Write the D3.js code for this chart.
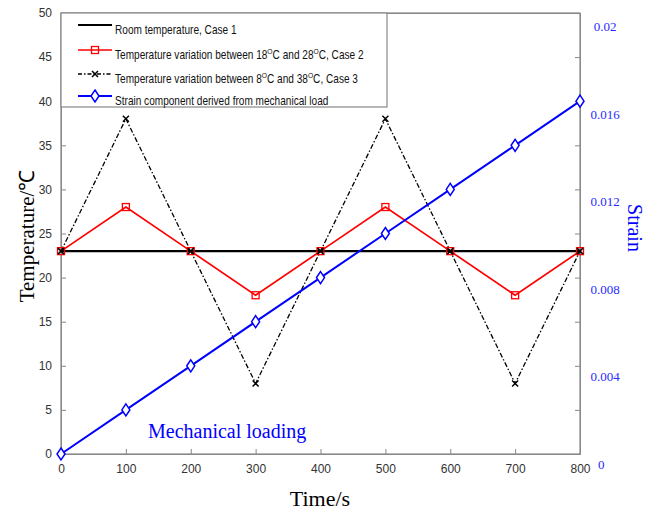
<!doctype html>
<html>
<head>
<script src="https://cdnjs.cloudflare.com/ajax/libs/d3/7.8.5/d3.min.js"></script>
<style>
  body { margin: 0; background: #fff; }
  .tick text { font-family: "Liberation Sans", Arial, sans-serif; font-size: 12px; fill: #333; }
</style>
</head>
<body>
<svg id="chart" width="649" height="516"></svg>
<script>
// data
var times = [0, 100, 200, 300, 400, 500, 600, 700, 800];
var case1 = [23, 23, 23, 23, 23, 23, 23, 23, 23];
var case2 = [23, 28, 23, 18, 23, 28, 23, 18, 23];
var case3 = [23, 38, 23, 8, 23, 38, 23, 8, 23];
var strain = [0, 0.002, 0.004, 0.006, 0.008, 0.010, 0.012, 0.014, 0.016];
var xTicks = [0, 100, 200, 300, 400, 500, 600, 700, 800];
var yTicks = [0, 5, 10, 15, 20, 25, 30, 35, 40, 45, 50];
var strainTicks = [0, 0.004, 0.008, 0.012, 0.016, 0.02];
var strainTickLabels = ["0", "0.004", "0.008", "0.012", "0.016", "0.02"];

var svg = d3.select("#chart");
var blue = "#0000ff";

var x = d3.scaleLinear().domain([0, 800]).range([61, 580]);
var y = d3.scaleLinear().domain([0, 50]).range([454, 13]);
// strain plotted on the temperature area
var yStrain = d3.scaleLinear().domain([0, 0.02]).range([454, 13]);
// strain labels were placed by hand in the original, slightly off the ticks
var yStrainLabel = d3.scaleLinear().domain([0, 0.02]).range([466, 28]);

// box
svg.append("rect").attr("x", 61).attr("y", 13).attr("width", 519).attr("height", 441)
  .attr("fill", "none").attr("stroke", "#888").attr("stroke-width", 1.2);

var xAxis = d3.axisBottom(x).tickValues(xTicks).tickSizeInner(-5).tickSizeOuter(0).tickPadding(10);
svg.append("g").attr("transform", "translate(0,454)").call(xAxis);
var yAxis = d3.axisLeft(y).tickValues(yTicks).tickSizeInner(-5).tickSizeOuter(0).tickPadding(9);
svg.append("g").attr("transform", "translate(61,0)").call(yAxis);
var yAxisR = d3.axisRight(y).tickValues(yTicks).tickSizeInner(-5).tickSizeOuter(0).tickFormat("");
svg.append("g").attr("transform", "translate(580,0)").call(yAxisR);
var xAxisT = d3.axisTop(x).tickValues(xTicks).tickSizeInner(0).tickSizeOuter(0).tickFormat("");
svg.append("g").attr("transform", "translate(0,13)").call(xAxisT);
svg.selectAll(".domain").attr("stroke", "#888");
svg.selectAll(".tick line").attr("stroke", "#888");

// strain labels
svg.append("g").selectAll("text").data(strainTicks).enter().append("text")
  .attr("x", (d, i) => i == 0 ? 598 : 605)
  .attr("y", d => yStrainLabel(d))
  .attr("text-anchor", (d, i) => i == 0 ? "start" : "middle")
  .attr("dominant-baseline", "middle")
  .attr("font-family", "Liberation Serif, Times New Roman, serif").attr("font-size", 13)
  .attr("fill", "#2a2aff")
  .text((d, i) => strainTickLabels[i]);

// lines
var line = d3.line().x((d, i) => x(times[i])).y(d => y(d));
var sline = d3.line().x((d, i) => x(times[i])).y(d => yStrain(d));

svg.append("path").datum(case3).attr("d", line).attr("fill", "none")
  .attr("stroke", "#000").attr("stroke-width", 1.3).attr("stroke-dasharray", "5,2,1.5,2");
svg.append("path").datum(case2).attr("d", line).attr("fill", "none")
  .attr("stroke", "#ff0000").attr("stroke-width", 1.7);
svg.append("path").datum(case1).attr("d", line).attr("fill", "none")
  .attr("stroke", "#000").attr("stroke-width", 2.2);
svg.append("path").datum(strain).attr("d", sline).attr("fill", "none")
  .attr("stroke", blue).attr("stroke-width", 2);

// markers
svg.append("g").selectAll("rect").data(case2).enter().append("rect")
  .attr("x", (d, i) => x(times[i]) - 3.5).attr("y", d => y(d) - 3.5)
  .attr("width", 7).attr("height", 7)
  .attr("fill", "none").attr("stroke", "#ff0000").attr("stroke-width", 1.3);
var cross = "M-3,-3L3,3M-3,3L3,-3";
svg.append("g").selectAll("path").data(case3).enter().append("path")
  .attr("d", cross)
  .attr("transform", (d, i) => "translate(" + x(times[i]) + "," + y(d) + ")")
  .attr("stroke", "#000").attr("stroke-width", 1.5);
var diamond = "M0,-6L4,0L0,6L-4,0Z";
svg.append("g").selectAll("path").data(strain).enter().append("path")
  .attr("d", diamond)
  .attr("transform", (d, i) => "translate(" + x(times[i]) + "," + yStrain(d) + ")")
  .attr("fill", "#fff").attr("stroke", blue).attr("stroke-width", 1.5);

// legend
var lg = svg.append("g");
lg.append("rect").attr("x", 61).attr("y", 13).attr("width", 326).attr("height", 94)
  .attr("fill", "#fff").attr("stroke", "#888").attr("stroke-width", 1.2);
var legendRows = [
  { y: 25, color: "#000", dash: null, w: 2, mark: null, parts: ["Room temperature, Case 1"] },
  { y: 50, color: "#ff0000", dash: null, w: 1.7, mark: "square", parts: ["Temperature variation between 18", "O", "C and 28", "O", "C, Case 2"] },
  { y: 74, color: "#000", dash: "4,2,1.5,2", w: 1.3, mark: "cross", parts: ["Temperature variation between 8", "O", "C and 38", "O", "C, Case 3"] },
  { y: 96, color: blue, dash: null, w: 2, mark: "diamond", parts: ["Strain component derived from mechanical load"] }
];
legendRows.forEach(function(r) {
  lg.append("line").attr("x1", 78).attr("x2", 112).attr("y1", r.y).attr("y2", r.y)
    .attr("stroke", r.color).attr("stroke-width", r.w).attr("stroke-dasharray", r.dash);
  if (r.mark == "square") {
    lg.append("rect").attr("x", 91.5).attr("y", r.y - 3.5).attr("width", 7).attr("height", 7)
      .attr("fill", "none").attr("stroke", r.color).attr("stroke-width", 1.3);
  } else if (r.mark == "cross") {
    lg.append("path").attr("d", cross).attr("transform", "translate(95," + r.y + ")")
      .attr("stroke", "#000").attr("stroke-width", 1.5);
  } else if (r.mark == "diamond") {
    lg.append("path").attr("d", diamond).attr("transform", "translate(95," + r.y + ")")
      .attr("fill", "#fff").attr("stroke", blue).attr("stroke-width", 1.5);
  }
  // original legend font is a narrow sans, so squeeze horizontally
  var t = lg.append("text").attr("transform", "translate(115," + (r.y + 4) + ") scale(0.84,1)")
    .attr("font-family", "Liberation Sans, Arial, sans-serif").attr("font-size", 12).attr("fill", "#111");
  r.parts.forEach(function(p) {
    if (p == "O") {
      t.append("tspan").attr("dy", -5).attr("font-size", 8).text(p);
    } else {
      t.append("tspan").attr("dy", t.selectAll("tspan").size() ? 5 : 0).text(p);
    }
  });
});

// titles
svg.append("text").attr("transform", "translate(34,236) rotate(-90)")
  .attr("text-anchor", "middle")
  .attr("font-family", "Liberation Serif, Times New Roman, serif").attr("font-size", 21)
  .text("Temperature/\u2103");
svg.append("text").attr("x", 320).attr("y", 506).attr("text-anchor", "middle")
  .attr("font-family", "Liberation Serif, Times New Roman, serif").attr("font-size", 22)
  .text("Time/s");
svg.append("text").attr("transform", "translate(628,228) rotate(90)")
  .attr("text-anchor", "middle")
  .attr("font-family", "Liberation Serif, Times New Roman, serif").attr("font-size", 20)
  .attr("fill", blue).text("Strain");
svg.append("text").attr("x", 148).attr("y", 438)
  .attr("font-family", "Liberation Serif, Times New Roman, serif").attr("font-size", 20)
  .attr("fill", blue).text("Mechanical loading");
</script>
</body>
</html>
